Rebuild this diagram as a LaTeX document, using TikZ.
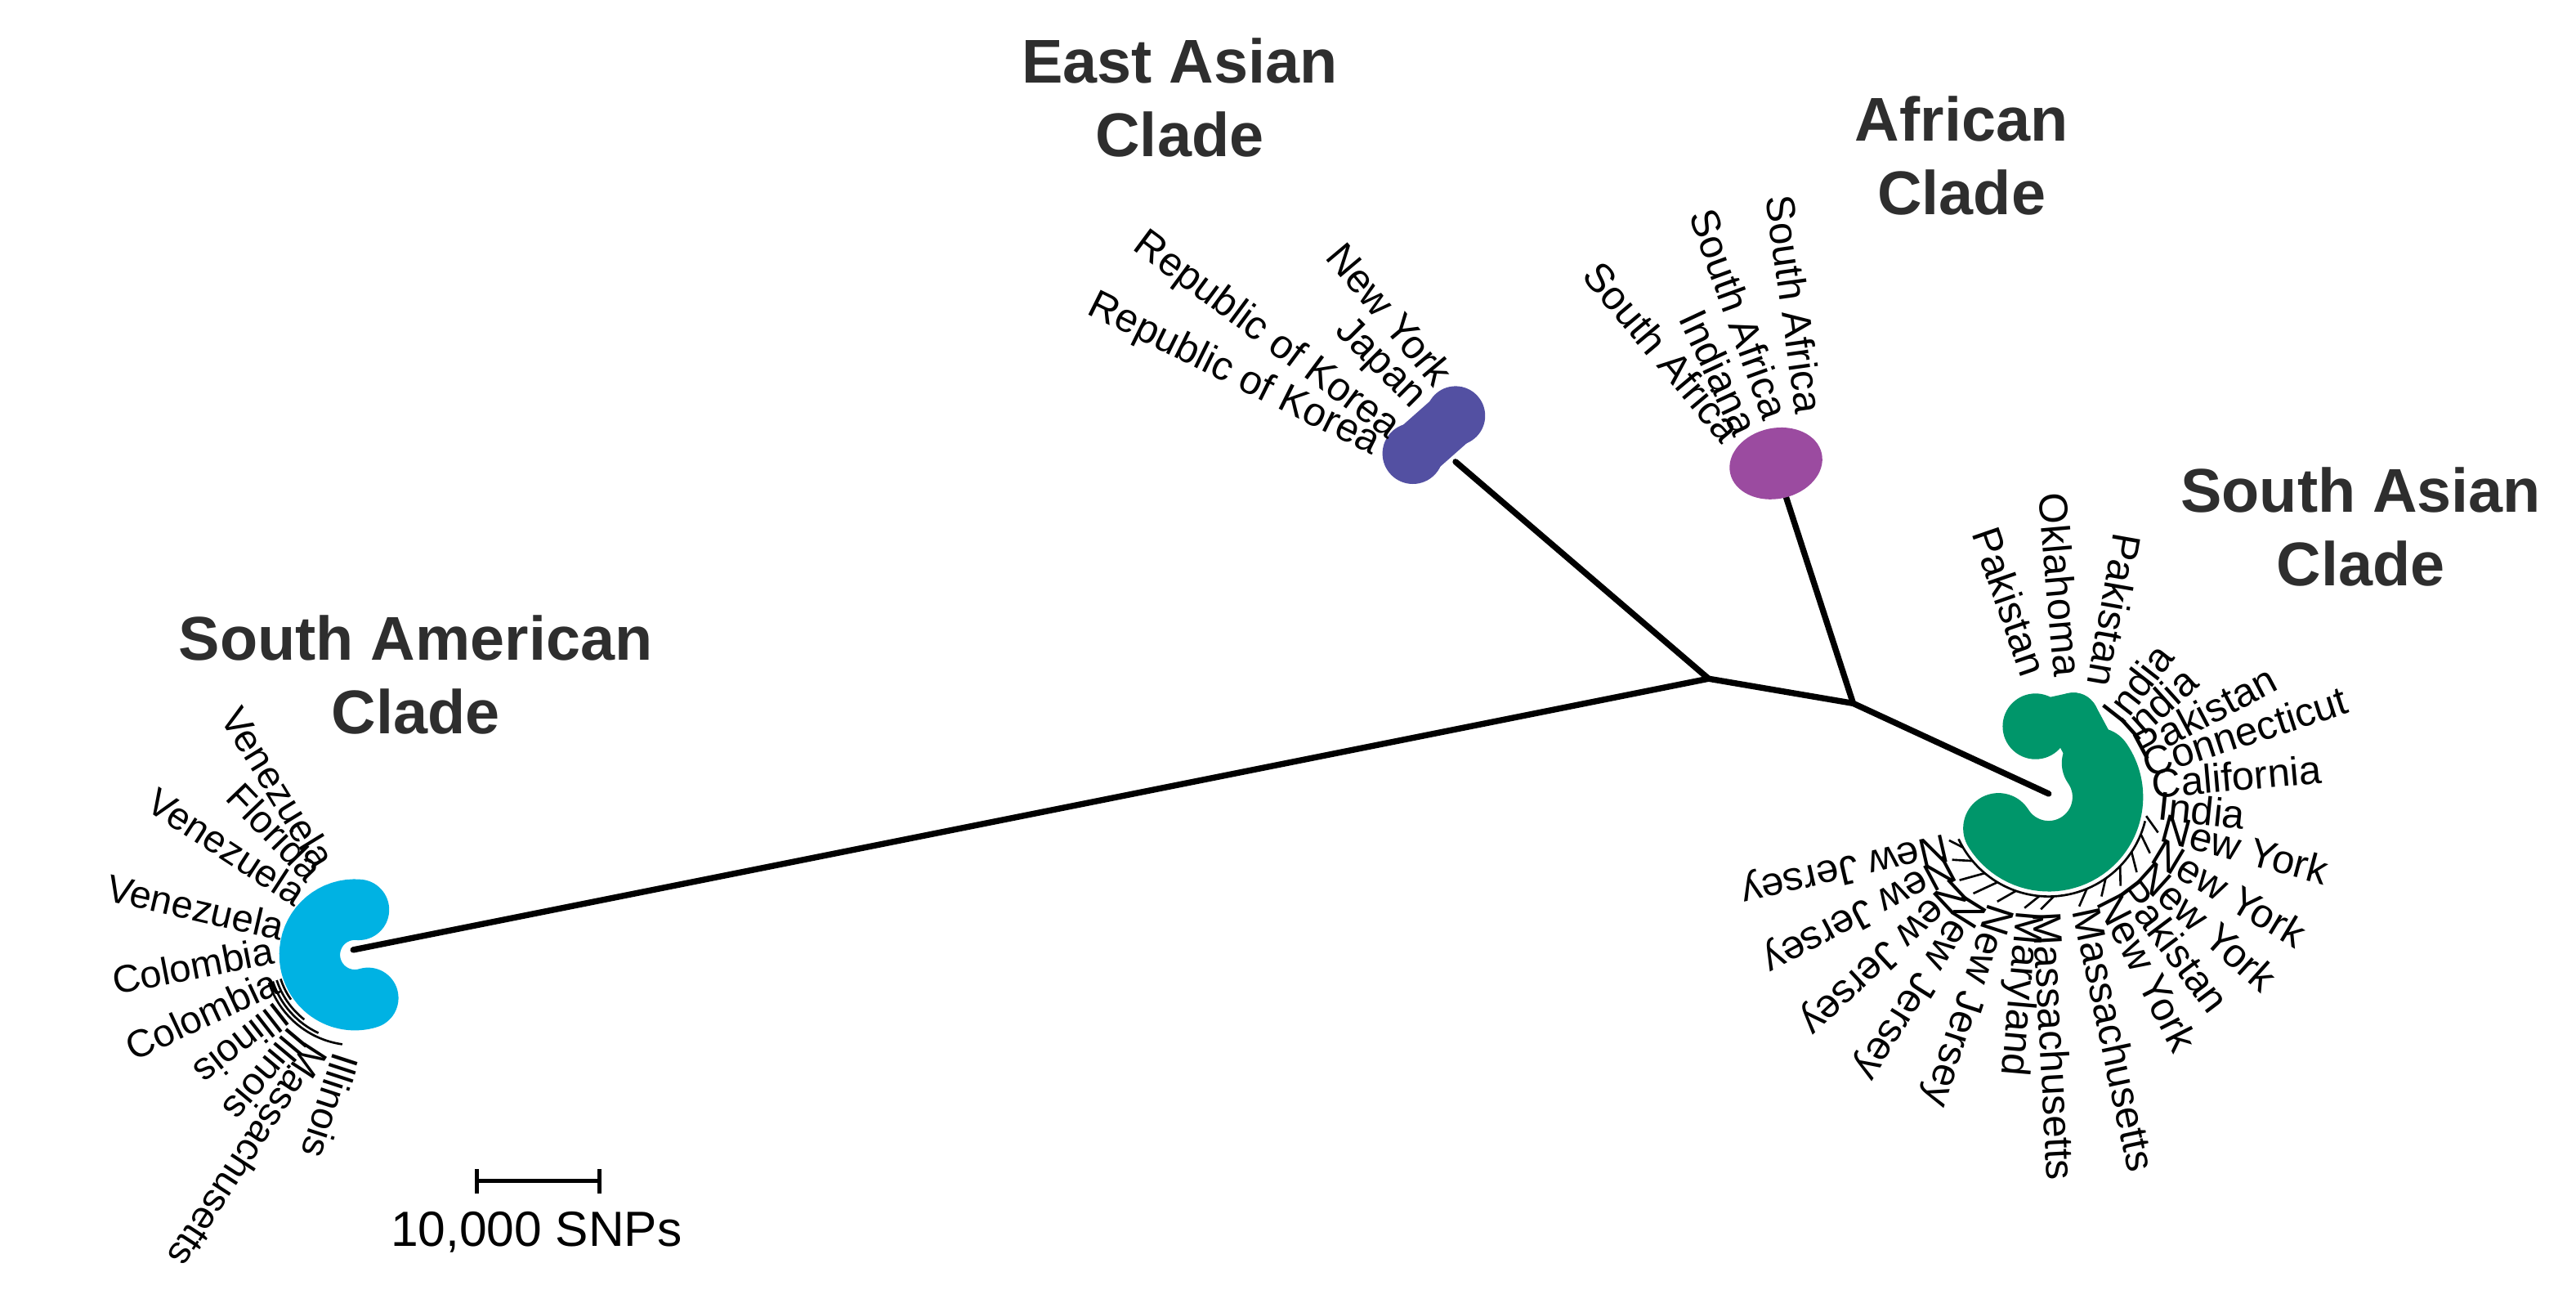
\documentclass[tikz,border=0pt]{standalone}
\usepackage{fontspec}
\setmainfont{Liberation Sans}
\usetikzlibrary{calc}
\definecolor{sacyan}{HTML}{00B2E3}
\definecolor{eapurple}{HTML}{5350A2}
\definecolor{afmagenta}{HTML}{9B4BA0}
\definecolor{sagreen}{HTML}{00966A}
\definecolor{titlegray}{HTML}{2E2E2E}
\def\pxu{0.020102cm}
\begin{document}
\begin{tikzpicture}[x=0.020102cm,y=0.020102cm,
  branch/.style={line width=2.1pt, line cap=round, line join=round},
  lbl/.style={inner sep=0pt, font=\fontsize{14}{16}\selectfont},
  lblsm/.style={inner sep=0pt, font=\fontsize{13.4}{15}\selectfont},
  lin/.style={anchor=mid east},
  lout/.style={anchor=mid west},
  title/.style={inner sep=0pt, align=center, text=titlegray, font=\fontsize{21.5}{25.6}\selectfont\bfseries},
  leader/.style={line width=0.75pt}]
\useasboundingbox (0,0) rectangle (1568,-795.45);

% tree coordinates
\coordinate (SAmEnd) at (215,-578);
\coordinate (A) at (1040,-413);
\coordinate (EAEnd) at (886,-281);
\coordinate (B) at (1128,-428);
\coordinate (AFEnd) at (1087,-302);
\coordinate (SAsEnd) at (1247,-483);
\coordinate (C1) at (216,-581);
\coordinate (C2) at (1247,-485);
\coordinate (EAb1) at (860,-276);
\coordinate (EAb2) at (886,-253);
\coordinate (AFc) at (1081,-282);

% branches
\draw[branch] (SAmEnd) -- (A) -- (EAEnd);
\draw[branch] (A) -- (B) -- (SAsEnd);
\draw[branch] (B) -- (AFEnd);

% clade blobs
\draw[sacyan, line width=37*\pxu, line cap=round] (C1) ++(85:27.5) arc[start angle=85, end angle=287, radius=27.5];
\fill[eapurple] (EAb1) circle[radius=18.5];
\fill[eapurple] (EAb2) circle[radius=18];
\draw[eapurple, line width=34*\pxu] (EAb1) -- (EAb2);
\fill[afmagenta, rotate around={12:(AFc)}] (AFc) ellipse[x radius=28.5, y radius=21.5];
\fill[sagreen] (1239,-442) circle[radius=20];
\fill[sagreen] (1262,-437) circle[radius=15.5];
\draw[sagreen, line width=31*\pxu, line cap=round, line join=round] (1239,-442) -- (1262,-437) -- (1276.5,-464);
\draw[sagreen, line width=43*\pxu, line cap=round] (C2) ++(35:36) arc[start angle=35, end angle=-148, radius=36];

% titles
\node[title] (tEA) at (718,-59.5) {East Asian\\Clade};
\node[title] (tAF) at (1194,-95) {African\\Clade};
\node[title] (tSAs) at (1437,-320.5) {South Asian\\Clade};
\node[title] (tSAm) at (253,-410.5) {South American\\Clade};

% East Asian labels
\node[lbl,lin,rotate=-50] (ea1) at (876.5,-233.8) {New York};
\node[lbl,lin,rotate=-45] (ea2) at (862.6,-246.2) {Japan};
\node[lbl,lin,rotate=-36.6] (ea3) at (848.2,-264.2) {Republic of Korea};
\node[lbl,lin,rotate=-26.4] (ea4) at (837.7,-273.1) {Republic of Korea};

% African labels
\node[lbl,lin,rotate=-82] (af1) at (1097.8,-252.1) {South Africa};
\node[lbl,lin,rotate=-70] (af2) at (1077.9,-255.4) {South Africa};
\node[lbl,lin,rotate=-65] (af3) at (1060,-265) {Indiana};
\node[lbl,lin,rotate=-50] (af4) at (1052,-268) {South Africa};

% South American labels
\foreach \a/\r/\rot/\t [count=\i] in {111.6/57/-58.5/Venezuela, 119.5/53/-46/Florida, 135.9/47/-33/Venezuela, 163.5/46/-13/Venezuela, 181/49/11/Colombia, 202/50/25/Colombia}
  \node[lblsm,lin,rotate=\rot] (sam\i) at ($(C1)+(\a:\r)$) {\t};
\foreach \a/\r/\rot/\t [count=\i] in {215/55/218/Illinois, 232/58/230/Illinois, 245/60/237/Massachusetts, 262/60/252/Illinois}
  \node[lblsm,lout,rotate=\rot] (samo\i) at ($(C1)+(\a:\r)$) {\t};
\foreach \r/\e in {47.5/215, 50/232, 52.5/245, 55/262}
  \draw[leader] (C1) ++(198:\r) arc[start angle=198, end angle=\e, radius=\r];

% South Asian labels
\foreach \a/\r/\rot/\t [count=\i] in {99.3/74/-71/Pakistan, 83.7/73.4/-85/Oklahoma, 67.6/73.5/-100/Pakistan}
  \node[lbl,lin,rotate=\rot] (sasi\i) at ($(C2)+(\a:\r)$) {\t};
\foreach \a/\r/\rot/\t [count=\i] in {47.9/61/52/India, 35.7/61/42/India, 25/61/28/Pakistan, 15/61/18/Connecticut, 3.6/63/5/California, 352/66.6/-6/India}
  \node[lbl,lout,rotate=\rot] (saso\i) at ($(C2)+(\a:\r)$) {\t};
\foreach \a/\r/\rot/\t [count=\i] in {342/71.5/-15/New York, 331/72/-31/New York, 319.5/72/-42/New York, 309/71/-53/Pakistan, 298/70/-63/New York, 285.6/70.6/-78/Massachusetts, 266/70/-87/Massachusetts, 257.7/70.6/-95/Maryland, 243.8/72.4/-108/New Jersey, 232/76/-122/New Jersey, 223/75.7/-137/New Jersey, 213/71.6/-152/New Jersey, 203.5/67.6/-167/New Jersey}
{
  \node[lbl,lout,rotate=\rot] (sasb\i) at ($(C2)+(\a:\r)$) {\t};
  \draw[leader] ($(C2)+(\a+7:60.5)$) -- ($(C2)+(\a:\r-1.5)$);
}
\draw[leader] (C2) ++(346:60.5) arc[start angle=346, end angle=205, radius=60.5];

% scale bar
\coordinate (sbL) at (290.2,-718.8);
\coordinate (sbR) at (364.8,-718.8);
\draw[line width=1.4pt] (sbL) -- (sbR);
\draw[line width=1.4pt] ($(sbL)+(0,7.4)$) -- ($(sbL)+(0,-7.4)$);
\draw[line width=1.4pt] ($(sbR)+(0,7.4)$) -- ($(sbR)+(0,-7.4)$);
\node[inner sep=0pt, anchor=base, font=\fontsize{17.2}{20}\selectfont] (sbt) at (326.5,-758.6) {10,000 SNPs};
\end{tikzpicture}
\end{document}
